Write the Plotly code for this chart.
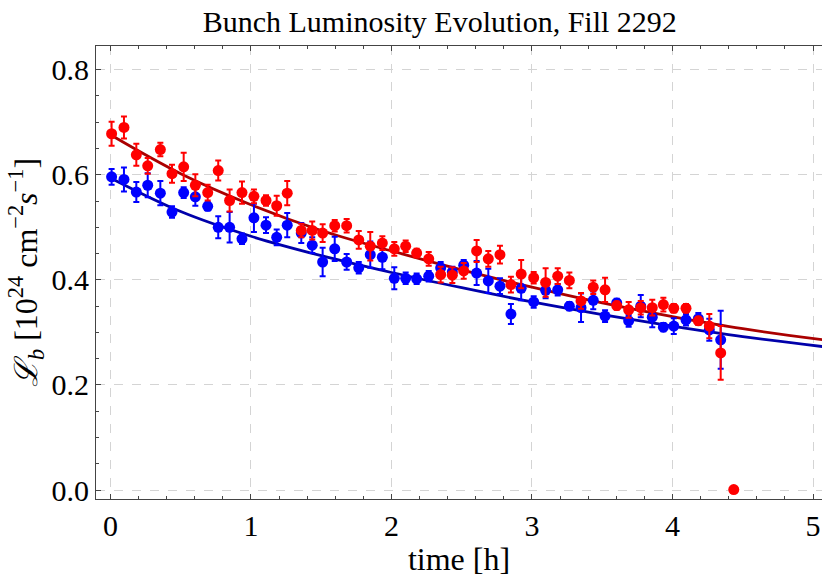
import plotly.graph_objects as go

# ---- data ----
time_h = [0.008, 0.096, 0.184, 0.265, 0.355, 0.438, 0.521, 0.604, 0.692, 0.767,
          0.848, 0.936, 1.021, 1.107, 1.183, 1.258, 1.358, 1.436, 1.510, 1.596,
          1.681, 1.767, 1.849, 1.935, 2.020, 2.101, 2.179, 2.265, 2.350, 2.433,
          2.514, 2.606, 2.689, 2.772, 2.850, 2.923, 3.012, 3.097, 3.183, 3.266,
          3.349, 3.436, 3.520, 3.603, 3.688, 3.774, 3.856, 3.935, 4.009, 4.096,
          4.184, 4.262, 4.343]

red_lumi = [0.678, 0.690, 0.638, 0.617, 0.648, 0.602, 0.615, 0.580, 0.566, 0.608,
            0.551, 0.566, 0.559, 0.551, 0.541, 0.565, 0.494, 0.494, 0.489, 0.503,
            0.503, 0.476, 0.464, 0.470, 0.459, 0.464, 0.451, 0.440, 0.410, 0.409,
            0.417, 0.455, 0.440, 0.448, 0.391, 0.411, 0.404, 0.395, 0.407, 0.399,
            0.360, 0.386, 0.381, 0.351, 0.343, 0.347, 0.347, 0.353, 0.346, 0.346,
            0.322, 0.312, 0.261]
red_err = [0.023, 0.021, 0.021, 0.015, 0.013, 0.017, 0.027, 0.021, 0.015, 0.019,
           0.021, 0.021, 0.013, 0.010, 0.019, 0.023, 0.013, 0.017, 0.017, 0.011,
           0.013, 0.017, 0.027, 0.013, 0.013, 0.011, 0.008, 0.013, 0.015, 0.015,
           0.015, 0.021, 0.015, 0.017, 0.015, 0.027, 0.011, 0.027, 0.015, 0.015,
           0.015, 0.013, 0.023, 0.008, 0.015, 0.013, 0.015, 0.013, 0.008, 0.008,
           0.008, 0.023, 0.051]
red_extra_time = [4.436]
red_extra_lumi = [0.001]

blue_lumi = [0.596, 0.591, 0.567, 0.580, 0.565, 0.529, 0.566, 0.558, 0.540, 0.500,
             0.500, 0.478, 0.518, 0.504, 0.481, 0.504, 0.489, 0.466, 0.434, 0.459,
             0.434, 0.423, 0.448, 0.443, 0.403, 0.403, 0.402, 0.407, 0.423, 0.415,
             0.428, 0.413, 0.398, 0.388, 0.335, 0.384, 0.358, 0.380, 0.381, 0.350,
             0.347, 0.361, 0.331, 0.356, 0.322, 0.350, 0.329, 0.310, 0.312, 0.324,
             0.326, 0.305, 0.286]
blue_err = [0.015, 0.023, 0.019, 0.023, 0.023, 0.011, 0.010, 0.017, 0.008, 0.021,
            0.029, 0.010, 0.027, 0.015, 0.015, 0.023, 0.019, 0.015, 0.027, 0.023,
            0.015, 0.011, 0.025, 0.023, 0.021, 0.011, 0.010, 0.010, 0.011, 0.010,
            0.010, 0.023, 0.023, 0.015, 0.019, 0.023, 0.011, 0.015, 0.011, 0.008,
            0.027, 0.017, 0.011, 0.008, 0.011, 0.021, 0.019, 0.008, 0.015, 0.011,
            0.011, 0.021, 0.055]

# fit curves (sampled from the drawn curves)
fit_time = [0.0, 0.5, 1.0, 1.5, 2.0, 2.5, 3.0, 3.5, 4.0, 4.5, 5.07]
fit_red = [0.676, 0.602, 0.543, 0.494, 0.455, 0.419, 0.386, 0.356, 0.330, 0.307, 0.286]
fit_blue = [0.594, 0.530, 0.483, 0.446, 0.414, 0.385, 0.358, 0.334, 0.312, 0.292, 0.273]

x_ticks = [0, 1, 2, 3, 4, 5]
y_ticks = [0.0, 0.2, 0.4, 0.6, 0.8]

FONT = "Liberation Serif, Times New Roman, serif"

fig = go.Figure()
fig.add_trace(go.Scatter(x=fit_time, y=fit_blue, mode="lines", line=dict(color="#0000aa", width=2.8, shape="spline"),
                         hoverinfo="skip", showlegend=False))
fig.add_trace(go.Scatter(x=fit_time, y=fit_red, mode="lines", line=dict(color="#aa0000", width=2.8, shape="spline"),
                         hoverinfo="skip", showlegend=False))
fig.add_trace(go.Scatter(x=time_h, y=blue_lumi, mode="markers",
                         marker=dict(color="#0000ff", size=11),
                         error_y=dict(type="data", array=blue_err, color="#0000ff", thickness=2, width=3),
                         showlegend=False))
fig.add_trace(go.Scatter(x=time_h + red_extra_time, y=red_lumi + red_extra_lumi, mode="markers",
                         marker=dict(color="#ff0000", size=11),
                         error_y=dict(type="data", array=red_err + [0], color="#ff0000", thickness=2, width=3),
                         showlegend=False))

axis_common = dict(
    showline=True, linecolor="#444444", linewidth=1,
    ticks="inside", ticklen=5, tickwidth=1, tickcolor="#444444",
    showgrid=True, gridcolor="#d4d4d4", griddash="dash", gridwidth=1,
    zeroline=False,
    tickfont=dict(family=FONT, size=30, color="black"),
)

fig.update_xaxes(range=[-0.103, 5.064], tickvals=x_ticks, ticktext=[str(v) for v in x_ticks], mirror="ticks",
                 minor=dict(dtick=0.2, ticks="inside", ticklen=3, tickcolor="#444444", showgrid=False),
                 title=dict(text="time [h]", font=dict(family=FONT, size=32, color="black"), standoff=6),
                 **axis_common)
fig.update_yaxes(range=[-0.017, 0.845], tickvals=y_ticks, ticktext=[f"{v:.1f}" for v in y_ticks], mirror=False,
                 minor=dict(dtick=0.05, ticks="inside", ticklen=3, tickcolor="#444444", showgrid=False),
                 title=dict(text="<i>ℒ<sub>b</sub></i> [10<sup>24</sup> cm<sup>−2</sup><i>s</i><sup>−1</sup>]",
                            font=dict(family=FONT, size=32, color="black"), standoff=4),
                 **axis_common)

fig.update_layout(
    width=822, height=578,
    margin=dict(l=96, r=0, t=46, b=79),
    plot_bgcolor="white", paper_bgcolor="white",
    title=dict(text="Bunch Luminosity Evolution, Fill 2292", x=0.535, xanchor="center", y=0.962, yanchor="middle",
               font=dict(family=FONT, size=30, color="black")),
)

fig.write_html("out.html")
